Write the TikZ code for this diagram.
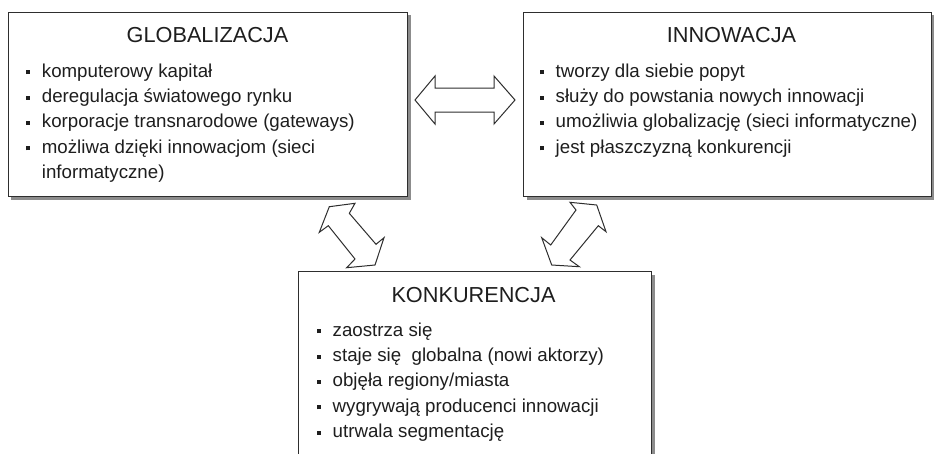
\documentclass[tikz,border=0pt]{standalone}
\usepackage{fontspec}
\setmainfont{Liberation Sans}
\usetikzlibrary{shadows}
\definecolor{boxline}{HTML}{2E2E2E}
\definecolor{shadowgray}{HTML}{8C8C8C}
\definecolor{textc}{HTML}{1E1E1E}
\newcommand{\itembullet}{\llap{\textcolor{textc}{\rule[2.9pt]{4pt}{4pt}}\hspace{11.5pt}}}
\begin{document}
\begin{tikzpicture}[x=1pt,y=-1pt,
  boxnode/.style={draw=boxline, line width=1.1pt, fill=white, anchor=north west, inner sep=0pt,
    drop shadow={shadow xshift=3pt, shadow yshift=-3pt, fill=shadowgray, opacity=1}},
  titletext/.style={anchor=base, inner sep=0pt, text=textc, font=\fontsize{21.7}{26}\selectfont},
  itemtext/.style={anchor=base west, inner sep=0pt, text=textc, font=\fontsize{18.7}{22}\selectfont},
  blockarrow/.style={draw=boxline, line width=1pt, fill=white, line join=miter}]
\clip (0,0) rectangle (934,453);
\fill[white] (0,0) rectangle (934,453);

% boxes
\node[boxnode, minimum width=399.5pt, minimum height=184.5pt] (glob) at (7.5,11.5) {};
\node[boxnode, minimum width=408pt, minimum height=184.5pt] (inno) at (523,11.5) {};
\node[boxnode, minimum width=353pt, minimum height=200pt] (konk) at (298,271) {};

% GLOBALIZACJA
\node[titletext] (gt) at (207.5,42) {GLOBALIZACJA};
\node[itemtext] (g1) at (41.7,77) {\itembullet komputerowy kapitał};
\node[itemtext] (g2) at (41.7,102.4) {\itembullet deregulacja światowego rynku};
\node[itemtext] (g3) at (41.7,127.8) {\itembullet korporacje transnarodowe (gateways)};
\node[itemtext] (g4) at (41.7,153.2) {\itembullet możliwa dzięki innowacjom (sieci};
\node[itemtext] (g5) at (41.7,178.6) {informatyczne)};

% INNOWACJA
\node[titletext] (it) at (731.5,42) {INNOWACJA};
\node[itemtext] (i1) at (555.5,77) {\itembullet tworzy dla siebie popyt};
\node[itemtext] (i2) at (555.5,102.4) {\itembullet służy do powstania nowych innowacji};
\node[itemtext] (i3) at (555.5,127.8) {\itembullet umożliwia globalizację (sieci informatyczne)};
\node[itemtext] (i4) at (555.5,153.2) {\itembullet jest płaszczyzną konkurencji};

% KONKURENCJA
\node[titletext] (kt) at (473.5,302) {KONKURENCJA};
\node[itemtext] (k1) at (332.5,336) {\itembullet zaostrza się};
\node[itemtext] (k2) at (332.5,361.4) {\itembullet staje się\ \ globalna (nowi aktorzy)};
\node[itemtext] (k3) at (332.5,386.8) {\itembullet objęła regiony/miasta};
\node[itemtext] (k4) at (332.5,412.2) {\itembullet wygrywają producenci innowacji};
\node[itemtext] (k5) at (332.5,437.6) {\itembullet utrwala segmentację};

% block arrows
\draw[blockarrow] (415,100) -- (435,76) -- (435,88) -- (494,88) -- (494,76) -- (515,100)
  -- (494,124) -- (494,112) -- (435,112) -- (435,124) -- cycle;
\draw[blockarrow] (329.3,206.7) -- (355,203.3) -- (349.3,213.3) -- (376,244.3) -- (384,237.7)
  -- (375,265) -- (346.7,267.7) -- (355,259) -- (328.3,225.7) -- (319.3,232.3) -- cycle;
\draw[blockarrow] (596.7,205) -- (606,231.7) -- (598.3,225.7) -- (570,260) -- (579.3,266.7)
  -- (551.7,265) -- (541.7,237.7) -- (550.7,245) -- (576,210) -- (570,202.3) -- cycle;
\end{tikzpicture}
\end{document}
